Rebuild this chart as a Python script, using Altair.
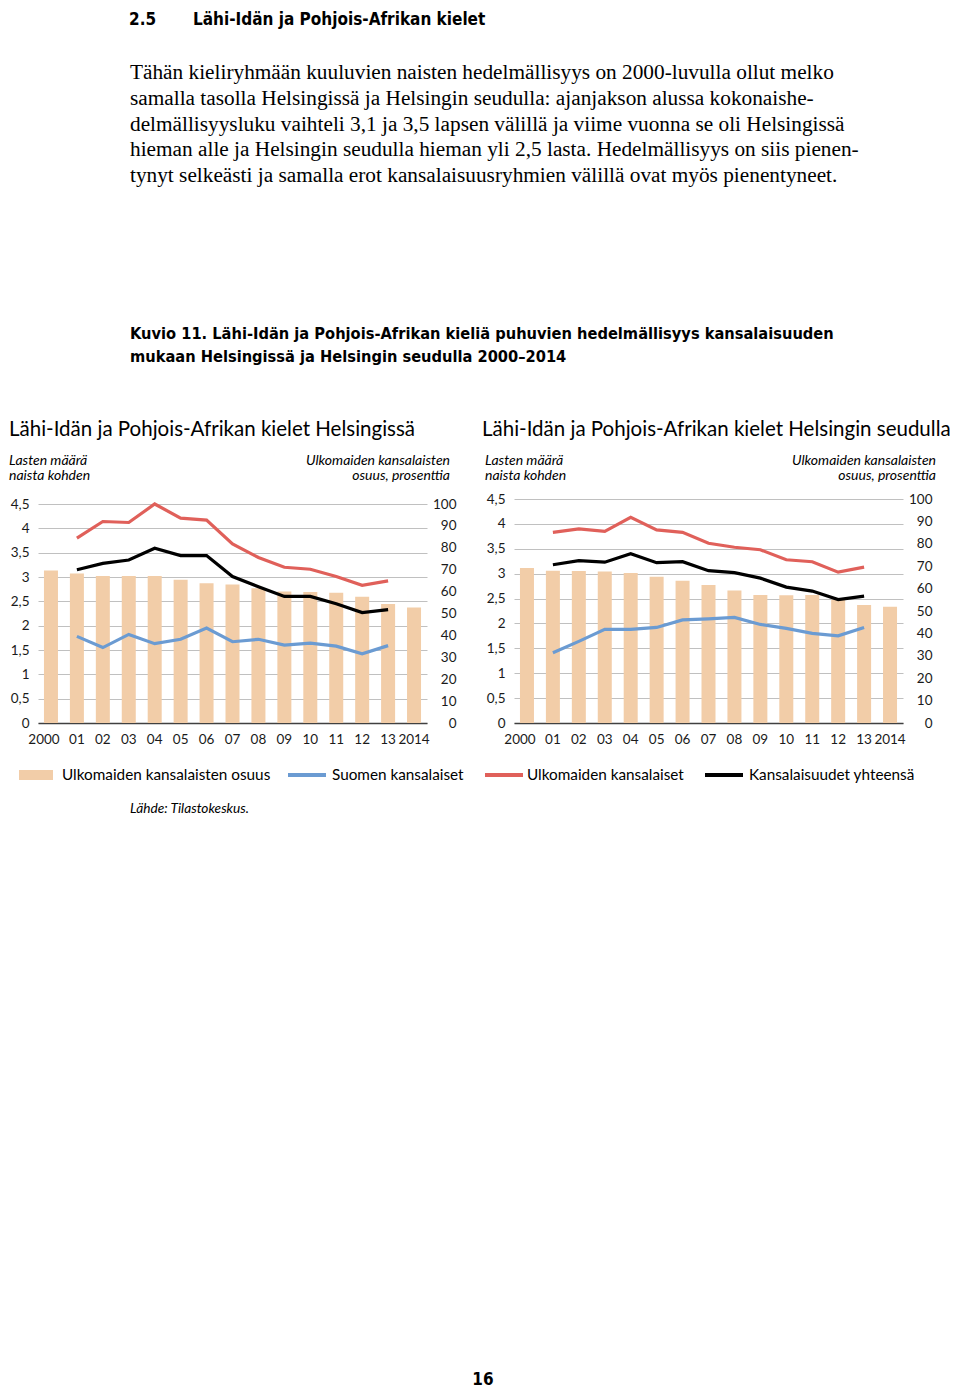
import altair as alt
import pandas as pd

# ---------------- data ----------------
years = ["2000", "01", "02", "03", "04", "05", "06", "07", "08", "09", "10", "11", "12", "13", "2014"]
line_years = ["01", "02", "03", "04", "05", "06", "07", "08", "09", "10", "11", "12", "13"]
series_names = ["Suomen kansalaiset", "Ulkomaiden kansalaiset", "Kansalaisuudet yhteensä"]
share_name = "Ulkomaiden kansalaisten osuus"

# Helsinki
hki_share = [69.6, 68.3, 67.1, 67.1, 67.1, 65.4, 63.8, 63.2, 61.5, 60.1, 59.8, 59.5, 57.7, 54.3, 52.7]
hki_finnish = [1.78, 1.55, 1.82, 1.63, 1.72, 1.95, 1.67, 1.72, 1.60, 1.64, 1.58, 1.42, 1.59]
hki_foreign = [3.80, 4.14, 4.12, 4.50, 4.21, 4.17, 3.68, 3.40, 3.20, 3.16, 3.01, 2.83, 2.92]
hki_total = [3.15, 3.28, 3.35, 3.59, 3.44, 3.44, 3.01, 2.80, 2.60, 2.60, 2.45, 2.27, 2.33]

# Helsingin seutu
seu_share = [69.2, 68.0, 67.9, 67.6, 67.0, 65.3, 63.5, 61.6, 59.1, 57.1, 57.0, 57.1, 55.0, 52.7, 51.9]
seu_finnish = [1.41, 1.64, 1.88, 1.88, 1.92, 2.07, 2.09, 2.12, 1.98, 1.90, 1.80, 1.75, 1.92]
seu_foreign = [3.83, 3.90, 3.85, 4.13, 3.88, 3.83, 3.61, 3.53, 3.48, 3.28, 3.24, 3.03, 3.13]
seu_total = [3.18, 3.26, 3.23, 3.40, 3.22, 3.24, 3.06, 3.02, 2.91, 2.73, 2.65, 2.48, 2.55]

y_left_ticks = [0, 0.5, 1, 1.5, 2, 2.5, 3, 3.5, 4, 4.5]
y_right_ticks = [0, 10, 20, 30, 40, 50, 60, 70, 80, 90, 100]

panel_titles = ["Lähi-Idän ja Pohjois-Afrikan kielet Helsingissä",
                "Lähi-Idän ja Pohjois-Afrikan kielet Helsingin seudulla"]
left_axis_title = ["Lasten määrä", "naista kohden"]
right_axis_title = ["Ulkomaiden kansalaisten", "osuus, prosenttia"]

section_no = "2.5"
section_title = "Lähi-Idän ja Pohjois-Afrikan kielet"
paragraph = [
    "Tähän kieliryhmään kuuluvien naisten hedelmällisyys on 2000-luvulla ollut melko",
    "samalla tasolla Helsingissä ja Helsingin seudulla: ajanjakson alussa kokonaishe-",
    "delmällisyysluku vaihteli 3,1 ja 3,5 lapsen välillä ja viime vuonna se oli Helsingissä",
    "hieman alle ja Helsingin seudulla hieman yli 2,5 lasta. Hedelmällisyys on siis pienen-",
    "tynyt selkeästi ja samalla erot kansalaisuusryhmien välillä ovat myös pienentyneet.",
]
caption = [
    "Kuvio 11. Lähi-Idän ja Pohjois-Afrikan kieliä puhuvien hedelmällisyys kansalaisuuden",
    "mukaan Helsingissä ja Helsingin seudulla 2000–2014",
]
legend_labels = [share_name] + series_names
source_text = "Lähde: Tilastokeskus."
page_no = "16"

# ---------------- style ----------------
TAN = "#f2cda8"
BLUE = "#6b9bd2"
RED = "#e0605a"
BLACK = "#000000"
NARROW = "Liberation Sans Narrow, DejaVu Sans Condensed, sans-serif"
SERIF = "Liberation Serif, DejaVu Serif, serif"
SANS = "Lato, Open Sans, sans-serif"
W, H = 389, 224
LABEL_SIZE = 13.5


def txt(s, x, y, size, font=SANS, weight="normal", style="normal", align="left",
        baseline="alphabetic", color="#000000"):
    return alt.Chart(pd.DataFrame({"t": [s]})).mark_text(
        align=align, baseline=baseline, font=font, fontSize=size,
        fontWeight=weight, fontStyle=style, color=color
    ).encode(x=alt.value(x), y=alt.value(y), text="t:N")


def panel(share, fin, forn, tot, top_gap, title, title_dx, sub_l_dx, sub_r_dx, extra):
    ymax = 4.5 * H / (H - top_gap)
    df_bar = pd.DataFrame({"year": years, "share": share})
    rows = []
    for name, vals in zip(series_names, [fin, forn, tot]):
        for yr, v in zip(line_years, vals):
            rows.append({"year": yr, "series": name, "value": v})
    df_line = pd.DataFrame(rows)

    x = alt.X("year:O", sort=years,
              scale=alt.Scale(paddingInner=0.46, paddingOuter=0.23),
              axis=alt.Axis(title=None, labelAngle=0, ticks=False, domainColor="#404040",
                            domainWidth=1.5, labelPadding=9, labelFontSize=LABEL_SIZE,
                            labelFont=SANS, labelColor="#1a1a1a",
                            labelOffset={"condition": {"test": "datum.value === '2000'", "value": -7},
                                         "value": 0}))

    bars = alt.Chart(df_bar).mark_bar(color=TAN).encode(
        x=x,
        y=alt.Y("share:Q",
                scale=alt.Scale(domain=[0, 100 * ymax / 4.5], nice=False),
                axis=alt.Axis(orient="right", values=y_right_ticks, grid=False, domain=False,
                              ticks=False, labelAlign="right", labelPadding=29,
                              labelFontSize=LABEL_SIZE, labelFont=SANS, labelColor="#1a1a1a",
                              title=None)),
    )
    lines = alt.Chart(df_line).mark_line(strokeWidth=3.2).encode(
        x=alt.X("year:O", sort=years),
        y=alt.Y("value:Q",
                scale=alt.Scale(domain=[0, ymax], nice=False),
                axis=alt.Axis(orient="left", values=y_left_ticks,
                              labelExpr="replace(toString(datum.value), '.', ',')",
                              grid=True, gridColor="#c0c0c0", gridWidth=1, domain=False,
                              ticks=False, labelPadding=9, labelFontSize=LABEL_SIZE,
                              labelFont=SANS, labelColor="#1a1a1a", title=None)),
        color=alt.Color("series:N", scale=alt.Scale(domain=series_names, range=[BLUE, RED, BLACK]),
                        legend=None),
        detail="series:N",
    )
    texts = [
        txt(title, title_dx, -63, 20.5, font=SANS),
        txt(left_axis_title[0], sub_l_dx, -34, 14, style="italic"),
        txt(left_axis_title[1], sub_l_dx, -19, 14, style="italic"),
        txt(right_axis_title[0], sub_r_dx, -34, 14, style="italic", align="right"),
        txt(right_axis_title[1], sub_r_dx, -19, 14, style="italic", align="right"),
    ]
    return alt.layer(bars, lines, *texts, *extra).resolve_scale(y="independent").properties(
        width=W, height=H)


# header / footer texts (positioned relative to the left plot area)
extra = []
# invisible spacer that fixes the top edge of the page
extra.append(alt.Chart(pd.DataFrame({"t": [section_no]})).mark_rule(strokeOpacity=0).encode(
    x=alt.value(91), x2=alt.value(120), y=alt.value(-490)))
extra.append(txt(section_no, 91, -474, 17, font=NARROW, weight="bold"))
extra.append(txt(section_title, 155, -474, 17, font=NARROW, weight="bold"))
for i, line in enumerate(paragraph):
    extra.append(txt(line, 92, -420 + i * 25.75, 21.3, font=SERIF))
for i, line in enumerate(caption):
    extra.append(txt(line, 92, -160 + i * 23, 16.3, font=NARROW, weight="bold"))

# legend
sw = alt.Chart(pd.DataFrame({"t": [share_name]})).mark_rect(color=TAN).encode(
    x=alt.value(-19), x2=alt.value(15), y=alt.value(271), y2=alt.value(281))
extra.append(sw)
extra.append(txt(legend_labels[0], 24, 276, 15.3, baseline="middle"))
for (x0, tx), col, lab in zip([(250, 294), (447, 489), (667, 711)], [BLUE, RED, BLACK], legend_labels[1:]):
    extra.append(alt.Chart(pd.DataFrame({"t": [lab]})).mark_rule(color=col, strokeWidth=4).encode(
        x=alt.value(x0), x2=alt.value(x0 + 38), y=alt.value(276)))
    extra.append(txt(lab, tx, 276, 15.3, baseline="middle"))
extra.append(txt(source_text, 92, 310, 13.7, style="italic", baseline="middle"))
extra.append(txt(page_no, 445, 881, 17, font=NARROW, weight="bold", align="center", baseline="middle"))

left = panel(hki_share, hki_finnish, hki_foreign, hki_total, 5, panel_titles[0], -29, -29, 412, extra)
right = panel(seu_share, seu_finnish, seu_foreign, seu_total, 0, panel_titles[1], -32, -29, 422, [])

chart = alt.hconcat(left, right, spacing=87, bounds="flush", padding=0).configure_view(
    stroke="transparent")

chart.save("out.html", embed_options={"renderer": "svg", "actions": False})
